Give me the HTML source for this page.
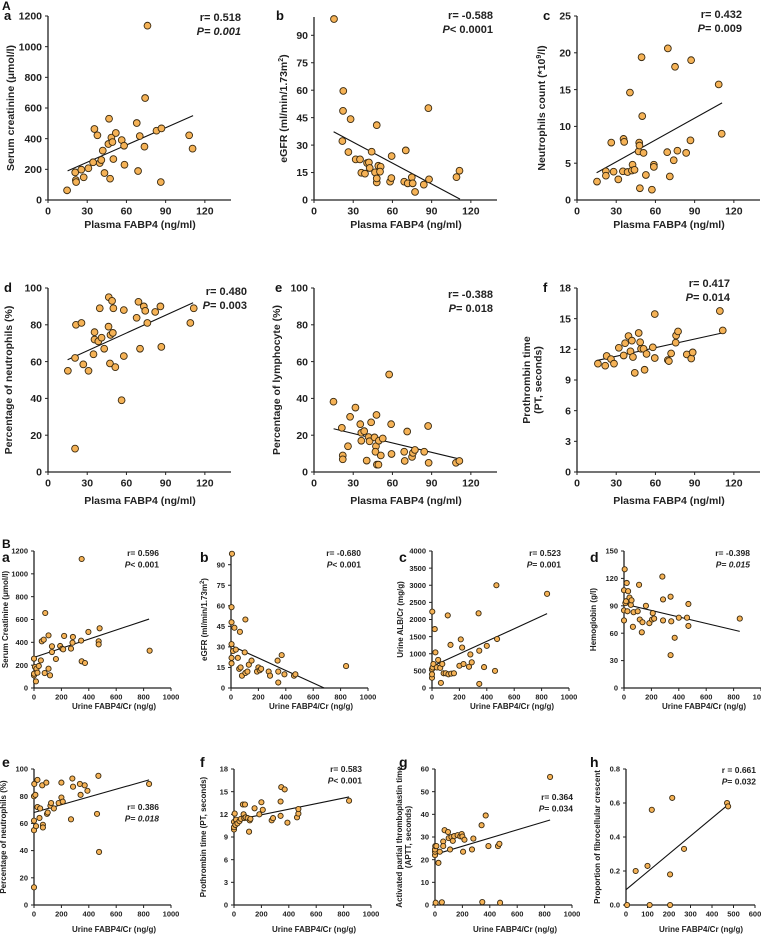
<!DOCTYPE html>
<html><head><meta charset="utf-8"><style>
html,body{margin:0;padding:0;background:#fff;}
svg{display:block;font-family:"Liberation Sans",Arial,sans-serif;font-weight:bold;}
</style></head><body>
<svg id="fig" width="761" height="937" viewBox="0 0 761 937" xmlns="http://www.w3.org/2000/svg"></svg>
<script>
// ---- Data ----
const aaX=[14.6,20.8,21.3,21.5,25.5,27.3,30.9,34.5,35.5,37.8,39.6,40.8,41.9,43.2,46.2,46.7,47.5,48.5,49.3,50,51.9,56.4,58.2,58.5,67.9,68.9,70.2,73.8,74.3,76.1,83,86.8,86.3,108,110.6];
const aaY=[63,180,130,117,198,148,207,246,463,422,241,261,322,176,365,530,139,407,378,267,437,391,354,230,502,189,417,348,665,1137,452,467,117,422,335];
const aaFit=[15,190,111,550];
const abX=[15.3,22.4,22.2,28,21.7,26.3,31.9,35.2,36.2,39,40.6,42,42.6,44.1,46.7,48,48,48,49.2,51,50.5,58.2,59.2,59.4,70.2,69,71.7,74.8,75.5,77.3,84,87.5,88,109,111.3];
const abY=[98.9,59.6,48.7,44.2,32.2,26.2,22.2,22.2,14.9,14.4,20.2,20.5,17.5,26.4,15.1,40.9,9.6,11.8,18.7,18.2,15.5,10,12,24,27.1,10,9.1,12.4,9.1,4.4,8.4,50.2,11.3,12.5,16];
const abFit=[15,37.3,111.7,0.5];
const acX=[15.3,22.1,22.1,28,26.2,31.6,35.6,36.1,35.1,38.7,40.5,42.5,42,44,47.1,47.6,47.8,48.1,49.4,49.9,50.9,52.7,57.3,58.8,58.8,69,69.5,71,75,74,76.8,83.5,86.8,87.3,108.4,110.7];
const acY=[2.5,3.9,3.3,3.85,7.8,2.8,8.3,7.9,3.9,3.8,14.6,4.8,4,4.1,6.6,7.8,7.4,1.6,19.4,11.4,6.4,3.4,1.4,4.8,4.5,6.5,20.6,3.2,18.1,5.4,6.7,6.4,8.1,19,15.7,9];
const acFit=[15,3.7,111,13.2];
const adX=[15.2,21.4,20.7,20.7,25.6,27,31,34.8,35.6,35.6,38.5,39.6,41,43,46.3,47.4,47.8,49.6,50,51.5,56.3,58,58,67.8,69.2,70.4,73.3,74.4,76,82,86,86.7,108.9,111.5,46.5,49];
const adY=[55,80,12.7,62,81,58.5,55,64,76,72,71,89,73,67,79,59,74.5,75.6,89,57,39,63,88,83.8,92.5,67,90,87.6,81,87,90,68,81,89,95,93];
const adFit=[15,61,111,92];
const aeX=[14.9,21.3,22,22,26,27.6,31.7,35.4,36.2,36.2,38.4,40.3,41.8,42.5,43.7,46.3,47.4,47.8,47,48.1,49.3,49.6,51.1,52.6,57.5,59,59.3,69,69.4,71.3,75,75.7,77.2,84.3,87.3,87.7,108.6,111.2];
const aeY=[38.2,24,9,6.9,14,30,35,26,17,21.3,22.2,6.2,19,16.7,27,18.8,14,31,11,4,4,17,9,18.2,53,26,9.8,11,6,22,8.2,10.4,12,11,25,5,5,6];
const aeFit=[15,23.5,111,7.1];
const afX=[16,21.6,22.7,26,28.3,32,35.7,36.8,39.4,40.9,42,42.8,44.2,47.2,48.3,49,50.9,51.7,53.2,58,59.5,59.5,69.5,70.3,72,75.5,75.8,77.3,84,87.4,88.5,109.3,111.5];
const afY=[10.6,10.4,11.35,11.05,10.6,12.15,11.4,12.6,13.3,11.8,12.85,11.25,9.7,13.6,12.7,12.05,12.05,10,11.55,12.2,15.45,11.15,10.95,10.85,11.6,12.65,13.35,13.75,11.5,11.1,11.7,15.75,13.85];
const afFit=[15,10.9,111,13.6];
const baX=[0,0,0,7,14,18,25,35,50,57,71,82,78,106,106,117,131,131,160,191,206,213,220,270,281,284,344,348,348,372,397,472,472,479,844];
const baY=[257,111,125,184,58,169,134,193,242,409,423,657,131,461,169,111,365,315,254,368,345,339,456,345,397,447,415,234,1130,219,491,409,382,523,327];
const baFit=[0,268,840,604];
const bbX=[7,4,4,4,4,4,15,25,35,50,65,60,70,80,100,105,105,120,130,150,190,200,210,220,275,285,340,345,345,370,390,460,470,840];
const bbY=[98,59,48,32,22,18,27,44,28,22,41,14,15,9,26,50,11,12,17,20,12,15,13,14,12,9,20,12,4,24,10,9,10,16];
const bbFit=[0,31,680,0];
const bcX=[0,0,0,2,5,10,20,25,35,45,60,65,75,85,100,115,120,135,140,160,200,210,220,230,270,280,290,340,345,345,380,400,460,470,475,840];
const bcY=[300,400,550,2230,600,700,1720,1040,600,820,590,150,700,430,430,2120,400,1260,420,430,650,1420,1180,700,620,980,750,2180,1090,120,610,1230,500,3000,1430,2750];
const bcFit=[0,630,840,2170];
const bdX=[0,0,0,5,10,15,20,25,30,40,50,55,65,70,100,110,115,130,135,160,185,205,210,220,280,285,285,340,345,340,370,400,460,470,470,845];
const bdY=[107,85,74,130,93,95,115,84,106,99,91,96,67,83,84,113,75,61,72,90,71,75,82,76,122,97,74,100,73,36,55,77,77,92,68,76];
const bdFit=[0,92,845,62];
const beX=[0,0,0,0,2,10,15,25,25,40,45,60,65,65,90,95,100,120,125,145,180,200,200,210,270,280,285,335,340,370,390,460,470,475,840];
const beY=[13,55,62,80,89,81,58,92,72,64,71,88,59,57,90,67,68,73,75,71,75,79,90,76,63,93,87,89,81,88,84,67,95,39,89];
const beFit=[0,68,840,92];
const bfX=[0,0,0,5,10,15,25,40,50,65,70,75,80,85,100,110,115,120,150,185,200,210,275,285,340,340,345,370,390,460,470,470,840];
const bfY=[10,10.3,11,12.1,10.6,11.3,10.8,11.1,11.4,13.3,12,11.5,13.3,11.6,11.5,9.7,11.2,11.4,12.8,12,13.6,12.6,11.2,11.5,13.7,11.8,15.6,15.3,10.9,11.6,12.1,12.7,13.8];
const bfFit=[0,11.2,840,14.3];
const bgX=[0,0,0,2,5,10,25,35,50,60,60,70,95,100,110,120,130,140,165,185,195,200,205,215,270,280,340,345,370,390,460,470,475,840];
const bgY=[22,23.5,24.5,26,1,26,18.6,23.5,1.2,28,26,33,32.2,29.5,24.5,30,28.3,30.4,30.8,30.3,31.3,30.2,23.5,28.8,24.5,29.3,35.2,1.3,39.5,26,26,27,1,56.5];
const bgFit=[0,22.3,840,37.5];
const bhX=[5,45,100,110,120,205,205,215,270,470,475];
const bhY=[0,0.2,0.23,0,0.56,0.18,0,0.63,0.33,0.6,0.58];
const bhFit=[0,0.09,475,0.59];
// tick labels
const plasmaTicks=[0,30,60,90,120];
const urineTicks=[0,200,400,600,800,1000];
const bhXTicks=[0,100,200,300,400,500,600];
const aaYTicks=[0,200,400,600,800,1000,1200];
const abYTicks=[0,15,30,45,60,75,90];
const acYTicks=[0,5,10,15,20,25];
const pctTicks=[0,20,40,60,80,100];
const ptTicks=[0,3,6,9,12,15,18];
const bcYTicks=[0,500,1000,1500,2000,2500,3000,3500,4000];
const bdYTicks=[0,30,60,90,120,150];
const bgYTicks=[0,10,20,30,40,50,60];
const bhYTicks=["0.0","0.2","0.4","0.6","0.8"];

const NS="http://www.w3.org/2000/svg";
const svg=document.getElementById('fig');
function mk(tag,attrs,parent,text){const e=document.createElementNS(NS,tag);for(const k in attrs)e.setAttribute(k,attrs[k]);if(text!==undefined)e.textContent=text;(parent||svg).appendChild(e);return e;}

function panel(c){
  const g=mk('g',{});
  
  
  const sx=v=>c.x0+(v-c.xmin)/(c.xmax-c.xmin)*c.w;
  const sy=v=>c.y0-(v-c.ymin)/(c.ymax-c.ymin)*c.h;
  const fs=c.fs, fam=c.narrow?'"Liberation Sans Narrow","Liberation Sans",sans-serif':'"Liberation Sans",sans-serif';
  const ax=mk('line',{x1:c.x0,y1:c.y0,x2:c.x0+c.w,y2:c.y0,stroke:'#222','stroke-width':1.3},g);
  
  
  const ay=mk('line',{x1:c.x0,y1:c.y0,x2:c.x0,y2:c.y0-c.h,stroke:'#222','stroke-width':1.3},g);
  
  
  c.xt.forEach(t=>{const x=sx(+t);
    mk('line',{x1:x,y1:c.y0,x2:x,y2:c.y0+3,stroke:'#222','stroke-width':1},g);
    const tl=mk('text',{x:x,y:c.y0+fs+4,'font-size':fs,'text-anchor':'middle','font-family':fam,fill:'#222'},g,t);
    
    });
  c.yt.forEach(t=>{const y=sy(+t);
    mk('line',{x1:c.x0-3,y1:y,x2:c.x0,y2:y,stroke:'#222','stroke-width':1},g);
    const tl=mk('text',{x:c.x0-6,y:y+fs*0.35,'font-size':fs,'text-anchor':'end','font-family':fam,fill:'#222'},g,t);
    
    });
  const fl=mk('line',{x1:sx(c.fit[0]),y1:sy(c.fit[1]),x2:sx(c.fit[2]),y2:sy(c.fit[3]),stroke:'#111','stroke-width':1.1},g);
  
  
  c.xs.forEach((v,i)=>{
    const p=mk('circle',{cx:sx(v),cy:sy(c.ys[i]),r:c.r,fill:'#F5B256',stroke:'#3a2a10','stroke-width':0.9},g);
    
    
  });
  const xt=mk('text',{x:c.x0+c.xtc,y:c.xty,'font-size':c.tfs,'text-anchor':'middle','font-family':fam,fill:'#222'},g,c.xtitle);
  
  
  c.ytitle.forEach((s,i)=>{
    const cy=c.y0-c.h/2;
    const x=c.ytx+i*(c.tfs+1);
    const yt=mk('text',{x:x,y:cy,'font-size':c.tfs,'text-anchor':'middle','font-family':fam,fill:'#222',transform:'rotate(-90 '+x+' '+cy+')'},g);
    yt.innerHTML=s;
    
    
  });
  const st=mk('text',{x:c.sx,y:c.sy,'font-size':c.sfs,'text-anchor':'end','font-family':fam,fill:'#222'},g,c.rtxt);
  
  
  const pt=mk('text',{x:c.sx,y:c.sy+c.sfs+3,'font-size':c.sfs,'text-anchor':'end','font-family':fam,fill:'#222'},g);
  pt.innerHTML='<tspan font-style="italic">P</tspan><tspan'+(c.pit?' font-style="italic"':'')+'>'+c.ptxt+'</tspan>';
  
  
  const lb=mk('text',{x:c.lx,y:c.ly,'font-size':c.narrow?14:13,'font-family':'"Liberation Sans",sans-serif',fill:'#111'},g,c.id.slice(1));
  
  
}
const A={xmin:0,xmax:140,w:183,h:184,fs:10.5,tfs:10.5,sfs:11,r:3.4,xt:plasmaTicks,xtc:92,xtitle:'Plasma FABP4 (ng/ml)'};
panel(Object.assign({},A,{id:'Aa',x0:48,y0:200,ymin:0,ymax:1200,yt:aaYTicks,xs:aaX,ys:aaY,fit:aaFit,xty:228,ytx:14,ytitle:['Serum creatinine (μmol/l)'],sx:241,sy:21,rtxt:'r= 0.518',ptxt:'= 0.001',pit:true,lx:4,ly:20}));
panel(Object.assign({},A,{id:'Ab',x0:314,y0:200,ymin:0,ymax:100,h:183,yt:abYTicks,xs:abX,ys:abY,fit:abFit,xty:228,ytx:287,ytitle:['eGFR (ml/min/1.73m<tspan font-size="7" dy="-4">2</tspan><tspan dy="4">)</tspan>'],sx:493,sy:19,rtxt:'r= -0.588',ptxt:'< 0.0001',pit:false,lx:276,ly:20}));
panel(Object.assign({},A,{id:'Ac',x0:577,y0:200,ymin:0,ymax:25,yt:acYTicks,xs:acX,ys:acY,fit:acFit,xty:228,ytx:545,ytitle:['Neutrophils count (*10<tspan font-size="7" dy="-4">9</tspan><tspan dy="4">/l)</tspan>'],sx:742,sy:18,rtxt:'r= 0.432',ptxt:'= 0.009',pit:false,lx:543,ly:20}));
panel(Object.assign({},A,{id:'Ad',x0:48,y0:472,ymin:0,ymax:100,yt:pctTicks,xs:adX,ys:adY,fit:adFit,xty:504,ytx:12,ytitle:['Percentage of neutrophils (%)'],sx:247,sy:295,rtxt:'r= 0.480',ptxt:'= 0.003',pit:false,lx:4,ly:292}));
panel(Object.assign({},A,{id:'Ae',x0:314,y0:472,ymin:0,ymax:100,yt:pctTicks,xs:aeX,ys:aeY,fit:aeFit,xty:504,ytx:280,ytitle:['Percentage of lymphocyte (%)'],sx:493,sy:298,rtxt:'r= -0.388',ptxt:'= 0.018',pit:false,lx:275,ly:292}));
panel(Object.assign({},A,{id:'Af',x0:577,y0:472,ymin:0,ymax:18,yt:ptTicks,xs:afX,ys:afY,fit:afFit,xty:504,ytx:530,ytitle:['Prothrombin time','(PT, seconds)'],sx:730,sy:287,rtxt:'r= 0.417',ptxt:'= 0.014',pit:false,lx:543,ly:292}));
const B={xmin:0,xmax:1000,w:137,h:137,fs:7.5,tfs:8,sfs:8.5,r:2.6,xt:urineTicks,xtc:80,xtitle:'Urine FABP4/Cr (ng/g)',narrow:true};
panel(Object.assign({},B,{id:'Ba',x0:34,y0:688,ymin:0,ymax:1200,yt:aaYTicks,xs:baX,ys:baY,fit:baFit,xty:709,ytx:8,ytitle:['Serum Creatinine (μmol/l)'],sx:159,sy:556,rtxt:'r= 0.596',ptxt:'< 0.001',pit:false,lx:2,ly:562}));
panel(Object.assign({},B,{id:'Bb',x0:231,y0:688,ymin:0,ymax:100,yt:abYTicks,xs:bbX,ys:bbY,fit:bbFit,xty:709,ytx:207,ytitle:['eGFR (ml/min/1.73m<tspan font-size="6" dy="-3">2</tspan><tspan dy="3">)</tspan>'],sx:361,sy:556,rtxt:'r= -0.680',ptxt:'< 0.001',pit:false,lx:200,ly:562}));
panel(Object.assign({},B,{id:'Bc',x0:432,y0:688,ymin:0,ymax:4000,yt:bcYTicks,xs:bcX,ys:bcY,fit:bcFit,xty:709,ytx:403,ytitle:['Urine ALB/Cr (mg/g)'],sx:561,sy:556,rtxt:'r= 0.523',ptxt:'= 0.001',pit:false,lx:399,ly:562}));
panel(Object.assign({},B,{id:'Bd',x0:624,y0:688,ymin:0,ymax:150,yt:bdYTicks,xs:bdX,ys:bdY,fit:bdFit,xty:709,ytx:596,ytitle:['Hemoglobin (g/l)'],sx:750,sy:556,rtxt:'r= -0.398',ptxt:'= 0.015',pit:true,lx:590,ly:562}));
panel(Object.assign({},B,{id:'Be',x0:34,y0:905,ymin:0,ymax:100,h:136,yt:pctTicks,xs:beX,ys:beY,fit:beFit,xty:932,ytx:6,ytitle:['Percentage of neutrophils (%)'],sx:159,sy:810,rtxt:'r= 0.386',ptxt:'= 0.018',pit:true,lx:2,ly:767}));
panel(Object.assign({},B,{id:'Bf',x0:234,y0:905,ymin:0,ymax:18,h:136,yt:ptTicks,xs:bfX,ys:bfY,fit:bfFit,xty:932,ytx:206,ytitle:['Prothrombin time (PT, seconds)'],sx:362,sy:772,rtxt:'r= 0.583',ptxt:'< 0.001',pit:false,lx:200,ly:767}));
panel(Object.assign({},B,{id:'Bg',x0:435,y0:905,ymin:0,ymax:60,h:136,yt:bgYTicks,xs:bgX,ys:bgY,fit:bgFit,xty:932,ytx:402,ytitle:['Activated partial thromboplastin time','(APTT, seconds)'],sx:573,sy:800,rtxt:'r= 0.364',ptxt:'= 0.034',pit:false,lx:399,ly:767}));
panel(Object.assign({},B,{id:'Bh',x0:626,xmax:600,w:129,y0:905,ymin:0,ymax:0.8,h:136,xt:bhXTicks,yt:bhYTicks,xs:bhX,ys:bhY,fit:bhFit,xty:932,xtc:75,ytx:600,ytitle:['Proportion of fibrocellular crescent'],sx:756,sy:773,rtxt:'r = 0.661',ptxt:'= 0.032',pit:false,lx:590,ly:767}));
const la=mk('text',{x:2,y:10,'font-size':12,fill:'#111'},svg,'A');


const lbB=mk('text',{x:2,y:548,'font-size':12,fill:'#111'},svg,'B');


</script>
</body></html>
